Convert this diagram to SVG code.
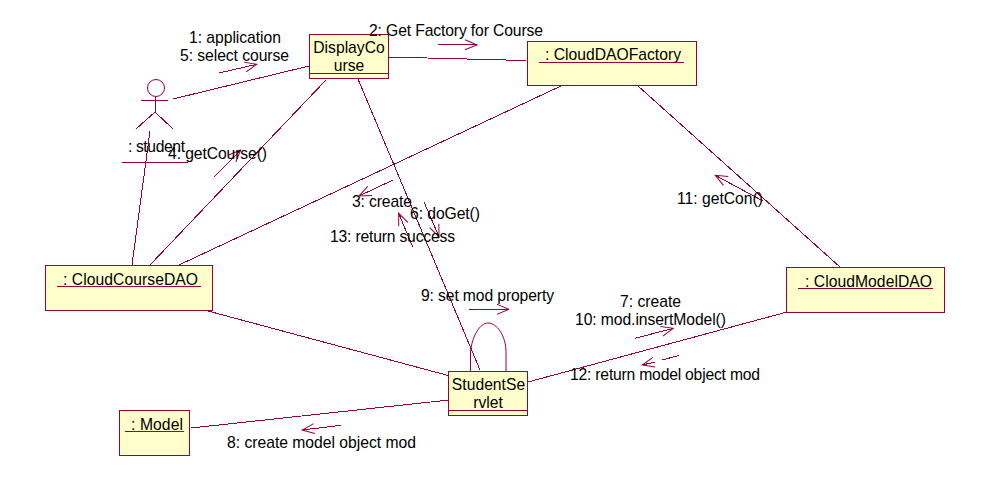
<svg xmlns="http://www.w3.org/2000/svg" width="991" height="477" viewBox="0 0 991 477">
<style>
text{font-family:"Liberation Sans",Arial,sans-serif;font-size:15.7px;fill:#000}
.c{text-anchor:middle}
.box{fill:#ffffcc;stroke:#990033;stroke-width:1;shape-rendering:crispEdges}
line,path.l,circle.a{stroke:#990033;stroke-width:1;fill:none}
line{shape-rendering:crispEdges}
.u{stroke:#990033;stroke-width:1}
</style>
<defs>
<marker id="open" markerUnits="userSpaceOnUse" markerWidth="16" markerHeight="16" refX="13" refY="6" viewBox="0 0 16 12" orient="auto"><path d="M1 1L13 6L1 11" fill="none" stroke="#990033" stroke-width="1"/></marker>
</defs>
<rect width="991" height="477" fill="#fff"/>
<g id="connectors">
<line x1="173" y1="99" x2="309" y2="66"/>
<line x1="388" y1="57" x2="526" y2="60.5"/>
<line x1="326" y1="80" x2="150" y2="265"/>
<line x1="358" y1="79" x2="480" y2="370"/>
<line x1="150" y1="131" x2="132" y2="265"/>
<line x1="562" y1="85.500" x2="179" y2="265"/>
<line x1="638" y1="86" x2="840" y2="267"/>
<line x1="208" y1="311" x2="450" y2="376"/>
<line x1="191" y1="428" x2="449" y2="400"/>
<line x1="528" y1="382" x2="787" y2="312"/>
<path class="l" d="M470.500 371V352C472 336 480 323 488 323C497 323 506 336 506 352V371"/>
</g>
<g id="message-arrows">
<line x1="219" y1="73" x2="256.700" y2="64.300" marker-end="url(#open)"/>
<line x1="437" y1="44" x2="477" y2="45" marker-end="url(#open)"/>
<line x1="214" y1="177" x2="240.700" y2="150" marker-end="url(#open)"/>
<line x1="393" y1="180" x2="359" y2="196" marker-end="url(#open)"/>
<line x1="412.700" y1="247" x2="398.700" y2="213.300" marker-end="url(#open)"/>
<line x1="424" y1="202" x2="439" y2="236.700" marker-end="url(#open)"/>
<line x1="469" y1="309.300" x2="509" y2="309.300" marker-end="url(#open)"/>
<line x1="635" y1="338.300" x2="673.300" y2="328.300" marker-end="url(#open)"/>
<line x1="679.300" y1="355.300" x2="662.300" y2="360"/>
<line x1="655" y1="362" x2="642.300" y2="365" marker-end="url(#open)"/>
<line x1="341" y1="425.300" x2="302.300" y2="430" marker-end="url(#open)"/>
<line x1="763" y1="201" x2="715.300" y2="175.300" marker-end="url(#open)"/>
</g>
<g id="student">
<circle class="a" cx="156" cy="88" r="8.500"/>
<line x1="141" y1="100" x2="168" y2="100"/>
<line x1="155" y1="97" x2="155" y2="112"/>
<line x1="155" y1="112" x2="136" y2="129"/>
<line x1="155" y1="112" x2="173" y2="129"/>
<text x="128" y="152" textLength="57">: student</text>
<line class="u" x1="122" y1="162" x2="188" y2="162"/>
</g>
<g id="DisplayCourse">
<rect class="box" x="309.500" y="34.500" width="79" height="44"/>
<text class="c" x="349" y="53">DisplayCo</text>
<text class="c" x="349" y="71">urse</text>
<line class="u" x1="310" y1="73" x2="388" y2="73"/>
</g>
<g id="CloudDAOFactory">
<rect class="box" x="527.500" y="41.500" width="169" height="44"/>
<text x="545" y="60" textLength="136">: CloudDAOFactory</text>
<line class="u" x1="539" y1="62" x2="684" y2="62"/>
</g>
<g id="CloudCourseDAO">
<rect class="box" x="45.500" y="265.500" width="167" height="45"/>
<text x="63" y="285" textLength="135">: CloudCourseDAO</text>
<line class="u" x1="57" y1="286.500" x2="201" y2="286.500"/>
</g>
<g id="CloudModelDAO">
<rect class="box" x="786.500" y="267.500" width="158" height="45"/>
<text x="805" y="287" textLength="127">: CloudModelDAO</text>
<line class="u" x1="798" y1="288" x2="933" y2="288"/>
</g>
<g id="Model">
<rect class="box" x="119.500" y="410.500" width="70" height="45"/>
<text x="131" y="430" textLength="52">: Model</text>
<line class="u" x1="125" y1="431" x2="184" y2="431"/>
</g>
<g id="StudentServlet">
<rect class="box" x="448.500" y="371.500" width="79" height="44"/>
<text class="c" x="488.500" y="390">StudentSe</text>
<text class="c" x="488" y="408">rvlet</text>
<line class="u" x1="449" y1="410.500" x2="527" y2="410.500"/>
</g>
<g id="message-labels">
<text x="189" y="43" textLength="92">1: application</text>
<text x="180" y="61" textLength="109">5: select course</text>
<text x="369" y="36" textLength="174">2: Get Factory for Course</text>
<text x="168" y="159" textLength="99">4: getCourse()</text>
<text x="352" y="207" textLength="60">3: create</text>
<text x="410" y="219" textLength="70">6: doGet()</text>
<text x="330" y="242" textLength="125">13: return success</text>
<text x="421" y="301" textLength="133">9: set mod property</text>
<text x="620" y="307" textLength="61">7: create</text>
<text x="575" y="325" textLength="151">10: mod.insertModel()</text>
<text x="570" y="380" textLength="190">12: return model object mod</text>
<text x="227" y="448" textLength="189">8: create model object mod</text>
<text x="677" y="204" textLength="86">11: getCon()</text>
</g>
</svg>
